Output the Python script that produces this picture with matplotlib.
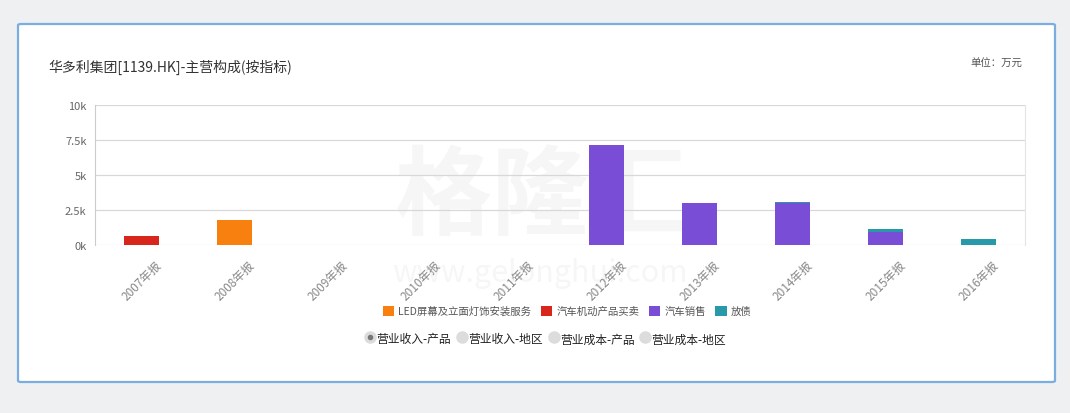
import matplotlib.pyplot as plt
import numpy as np
from matplotlib.patches import FancyBboxPatch, Rectangle
from matplotlib.lines import Line2D

plt.rcParams['font.family'] = ['Noto Sans CJK SC', 'DejaVu Sans']

periods = ['2007年报', '2008年报', '2009年报', '2010年报', '2011年报',
           '2012年报', '2013年报', '2014年报', '2015年报', '2016年报']
series_names = ['LED屏幕及立面灯饰安装服务', '汽车机动产品买卖', '汽车销售', '放债']
led = [0, 1800, 0, 0, 0, 0, 0, 0, 0, 0]
auto_parts = [650, 0, 0, 0, 0, 0, 0, 0, 0, 0]
car_sales = [0, 0, 0, 0, 0, 7150, 3000, 3000, 900, 0]
lending = [0, 0, 0, 0, 0, 0, 0, 60, 220, 450]
colors = ['#f7800f', '#d9261c', '#7a4dd6', '#2899a8']
yticks = [0, 2500, 5000, 7500, 10000]
ytick_labels = ['0k', '2.5k', '5k', '7.5k', '10k']
switch_labels = ['营业收入-产品', '营业收入-地区', '营业成本-产品', '营业成本-地区']

fig = plt.figure(figsize=(10.7, 4.14), dpi=100)
fig.patch.set_facecolor('#eef0f2')

# white panel with blue frame, kept behind the axes
panel = FancyBboxPatch((18 / 1070, 1 - 383 / 414), 1037 / 1070, 358 / 414,
                       boxstyle='round,pad=0,rounding_size=0.003',
                       transform=fig.transFigure, facecolor='white',
                       edgecolor='#7aaee0', linewidth=1.6, zorder=-10)
fig.patches.append(panel)

# watermark (drawn under the axes)
fig.text(0.505, 0.52, '格隆汇', fontsize=70, color='#000000', alpha=0.035,
         ha='center', va='center', fontweight='bold', zorder=-5)
fig.text(0.505, 0.34, 'www.gelonghui.com', fontsize=22, color='#000000',
         alpha=0.035, ha='center', va='center', zorder=-5)

ax = fig.add_axes([95 / 1070, 1 - 246 / 414, 930 / 1070, 140 / 414])
ax.set_facecolor('none')

x = np.arange(len(periods))
w = 0.38
bottom = np.zeros(len(periods))
handles = []
for name, vals, c in zip(series_names, [led, auto_parts, car_sales, lending], colors):
    vals = np.array(vals, dtype=float)
    ax.bar(x, vals, w, bottom=bottom, color=c, label=name, zorder=3)
    bottom += vals
    handles.append(Rectangle((0, 0), 1, 1, facecolor=c, edgecolor='none'))

ax.set_xlim(-0.5, len(periods) - 0.5)
ax.set_ylim(0, 10000)
ax.set_yticks(yticks)
ax.set_yticklabels(ytick_labels, fontsize=8, color='#666666')
ax.set_xticks(x)
ax.set_xticklabels(periods, rotation=45, ha='center', va='top',
                   fontsize=8.5, color='#888888')
ax.tick_params(axis='y', length=0, pad=6)
ax.tick_params(axis='x', length=0, pad=9)
ax.grid(axis='y', color='#d8d8d8', linewidth=0.9, zorder=0)
for s in ['top', 'bottom']:
    ax.spines[s].set_visible(False)
ax.spines['left'].set_color('#cccccc')
ax.spines['right'].set_color('#e4e4e4')

fig.text(48 / 1070, 1 - 67 / 414, '华多利集团[1139.HK]-主营构成(按指标)',
         fontsize=10, color='#333333', va='center')
fig.text(1022 / 1070, 1 - 64 / 414, '单位：万元', fontsize=7.5,
         color='#555555', va='center', ha='right')

fig.legend(handles, series_names, loc='center', ncol=4,
           bbox_to_anchor=(567 / 1070, 1 - 312 / 414), frameon=False,
           fontsize=7.5, handlelength=1.1, handleheight=1.1,
           handletextpad=0.4, columnspacing=0.9, labelcolor='#555555')

switch_x = [370, 462, 554, 645]
for i, (sx, lab) in enumerate(zip(switch_x, switch_labels)):
    fig.add_artist(Line2D([sx / 1070], [1 - 338 / 414], marker='o', markersize=8,
                          markerfacecolor='#dcdcdc', markeredgecolor='#dcdcdc',
                          transform=fig.transFigure))
    if i == 0:
        fig.add_artist(Line2D([sx / 1070], [1 - 338 / 414], marker='o', markersize=3,
                              markerfacecolor='#777777', markeredgecolor='#777777',
                              transform=fig.transFigure))
    fig.text((sx + 6) / 1070, 1 - 340 / 414, lab, fontsize=8.5,
             color='#222222', va='center')

fig.savefig('out.png', dpi=100, facecolor=fig.get_facecolor())
